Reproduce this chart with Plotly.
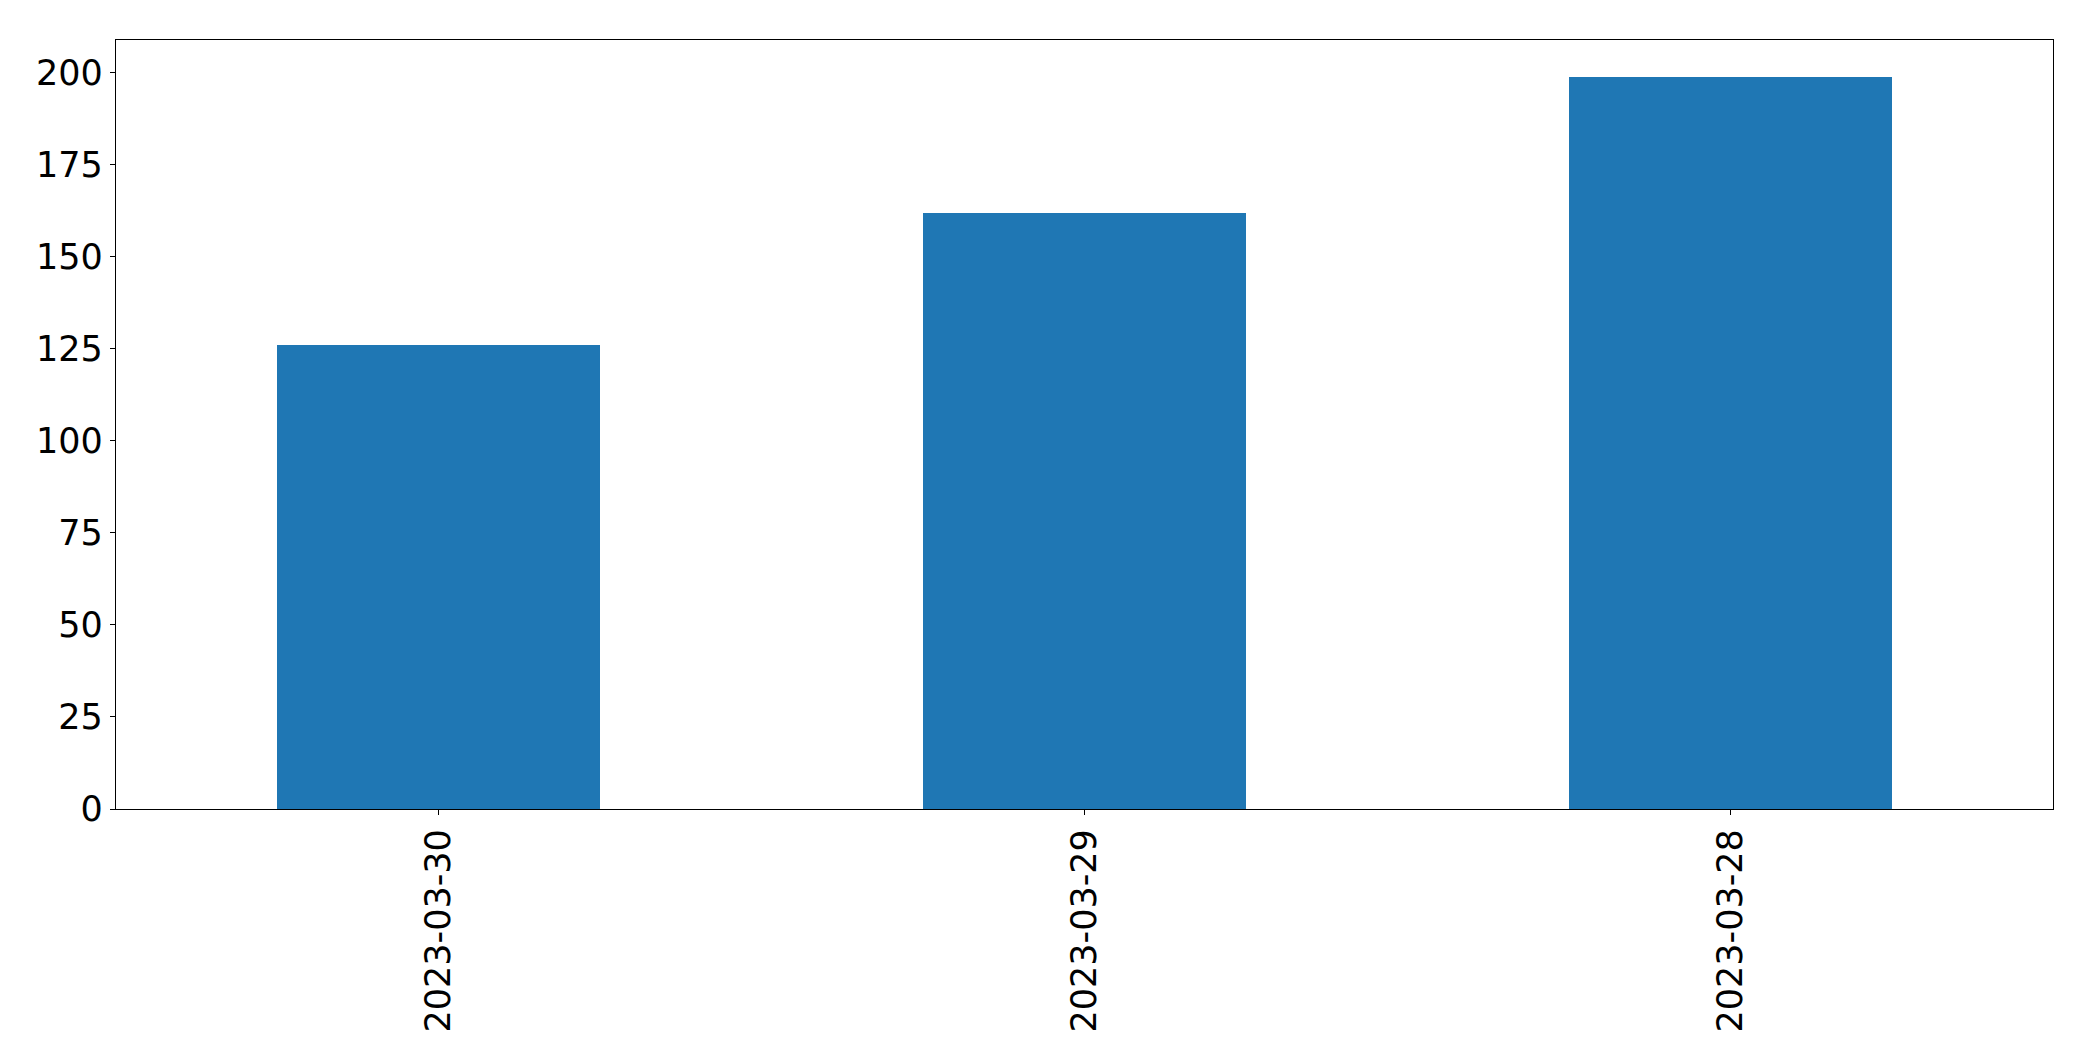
import plotly.graph_objects as go

categories = ["2023-03-30", "2023-03-29", "2023-03-28"]
values = [126, 162, 199]
y_ticks = [0, 25, 50, 75, 100, 125, 150, 175, 200]

fig = go.Figure(
    go.Bar(
        x=categories,
        y=values,
        width=0.5,
        marker=dict(color="#1f77b4", line=dict(width=0)),
    )
)

axis_common = dict(
    showline=True,
    linecolor="black",
    linewidth=1.3,
    mirror=True,
    ticks="outside",
    ticklen=5,
    tickwidth=1.3,
    tickcolor="black",
    showgrid=False,
    zeroline=False,
    tickfont=dict(family="DejaVu Sans", size=35, color="black"),
)

fig.update_layout(
    width=2077,
    height=1045,
    margin=dict(l=108, r=32, t=32, b=244),
    paper_bgcolor="white",
    plot_bgcolor="white",
    showlegend=False,
    bargap=0,
    xaxis=dict(
        **axis_common,
        type="category",
        range=[-0.5, 2.5],
        tickangle=-90,
    ),
    yaxis=dict(
        **axis_common,
        range=[0, max(values) * 1.05],
        tickvals=y_ticks,
        ticktext=[str(v) for v in y_ticks],
    ),
)

fig.write_html("out.html")
